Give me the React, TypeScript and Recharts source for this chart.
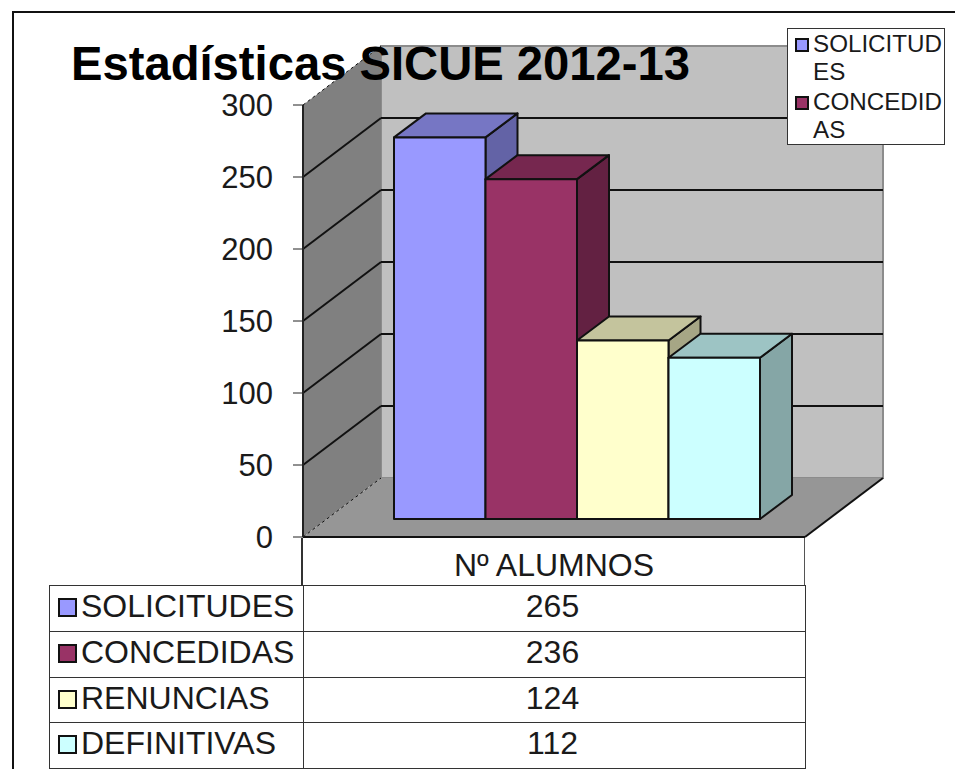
import { BarChart, Bar, XAxis, YAxis, CartesianGrid, ReferenceArea } from "recharts"

const chartTitle = "Estadísticas SICUE 2012-13"
const categories = ["Nº ALUMNOS"]
const seriesNames = ["SOLICITUDES", "CONCEDIDAS", "RENUNCIAS", "DEFINITIVAS"]
const seriesValues = [265, 236, 124, 112]
const seriesColors = ["#9999FF", "#993366", "#FFFFCC", "#CCFFFF"]
const legendNames = ["SOLICITUDES", "CONCEDIDAS"]
const yTicks = [0, 50, 100, 150, 200, 250, 300]
const rowTops = [585, 631, 677, 722]

const data = categories.map((name) => {
  const row: Record<string, string | number> = { name }
  seriesNames.forEach((s, i) => {
    row[s] = seriesValues[i]
  })
  return row
})

const FONT = "'Liberation Sans', Arial, sans-serif"
const DARK = "#222"
const TEXT = "#1a1a1a"

// depth of the fake 3d box
const WALL_DX = 78
const WALL_DY = 59
const BAR_OFFSET_X = 23
const BAR_OFFSET_Y = 18
const BAR_DX = 32
const BAR_DY = 24

function shade(hex: string, k: number) {
  const n = parseInt(hex.slice(1), 16)
  const r = Math.round(((n >> 16) & 255) * k)
  const g = Math.round(((n >> 8) & 255) * k)
  const b = Math.round((n & 255) * k)
  return `rgb(${r},${g},${b})`
}

function Walls(props: any) {
  const { x, y, width, height } = props
  const bottom = y + height
  return (
    <g>
      <rect x={x + WALL_DX} y={y - WALL_DY} width={width} height={height} fill="#C0C0C0" stroke="#8c8c8c" strokeWidth={2} />
      <polygon
        points={`${x},${y} ${x + WALL_DX},${y - WALL_DY} ${x + WALL_DX},${bottom - WALL_DY} ${x},${bottom}`}
        fill="#808080"
      />
      <polygon
        points={`${x},${bottom} ${x + WALL_DX},${bottom - WALL_DY} ${x + width + WALL_DX},${bottom - WALL_DY} ${x + width},${bottom}`}
        fill="#969696"
      />
      <line x1={x + width} y1={bottom} x2={x + width + WALL_DX} y2={bottom - WALL_DY} stroke="#111" strokeWidth={2} />
    </g>
  )
}

function GridLine(props: any) {
  const { x1, x2, y1, index } = props
  const edge = y1 < 110 || y1 > 530
  return (
    <g key={index}>
      <line
        x1={x1}
        y1={y1}
        x2={x1 + WALL_DX}
        y2={y1 - WALL_DY}
        stroke="#111"
        strokeWidth={edge ? 1 : 2}
        strokeDasharray={edge ? "3 3" : undefined}
      />
      {!edge && <line x1={x1 + WALL_DX} y1={y1 - WALL_DY} x2={x2 + WALL_DX} y2={y1 - WALL_DY} stroke="#111" strokeWidth={2} />}
    </g>
  )
}

function Bar3D(props: any) {
  const { x, y, width, height, fill } = props
  const left = x + BAR_OFFSET_X
  const top = y - BAR_OFFSET_Y
  const right = left + width
  const bottom = top + height
  const stroke = { stroke: "#111", strokeWidth: 2, strokeLinejoin: "round" as const }
  return (
    <g>
      <polygon
        points={`${right},${top} ${right + BAR_DX},${top - BAR_DY} ${right + BAR_DX},${bottom - BAR_DY} ${right},${bottom}`}
        fill={shade(fill, 0.65)}
        {...stroke}
      />
      <polygon
        points={`${left},${top} ${left + BAR_DX},${top - BAR_DY} ${right + BAR_DX},${top - BAR_DY} ${right},${top}`}
        fill={shade(fill, 0.77)}
        {...stroke}
      />
      <rect x={left} y={top} width={width} height={height} fill={fill} {...stroke} />
    </g>
  )
}

function Swatch({ color, size }: { color: string; size: number }) {
  return (
    <span
      style={{
        display: "block",
        boxSizing: "border-box",
        width: size,
        height: size,
        background: color,
        border: "2px solid #111",
      }}
    />
  )
}

export default function App() {
  return (
    <div style={{ position: "absolute", left: 0, top: 0, width: 955, height: 769, overflow: "hidden", background: "#fff", fontFamily: FONT }}>
      <div style={{ position: "absolute", left: 12, top: 11, width: 943, height: 758, borderLeft: "2px solid #111", borderTop: "2px solid #111" }} />

      <div style={{ position: "absolute", left: 0, top: 0 }}>
        <BarChart
          width={955}
          height={769}
          data={data}
          barSize={91.5}
          barGap={0}
          margin={{ top: 105, right: 150, bottom: 184, left: 243 }}
        >
          <ReferenceArea y1={0} y2={300} shape={<Walls />} ifOverflow="visible" zIndex={-200} />
          <CartesianGrid vertical={false} horizontal={<GridLine />} zIndex={-100} />
          <XAxis
            dataKey="name"
            height={48}
            tickLine={false}
            axisLine={{ stroke: "#111", strokeWidth: 2 }}
            interval={0}
            tick={{ fill: TEXT, fontSize: 32, fontFamily: FONT, dy: 8 }}
          />
          <YAxis
            width={60}
            domain={[0, 300]}
            ticks={yTicks}
            interval={0}
            tickSize={10}
            tickMargin={20}
            axisLine={{ stroke: DARK, strokeWidth: 2 }}
            tickLine={{ stroke: DARK, strokeWidth: 1 }}
            tick={{ fill: TEXT, fontSize: 31, fontFamily: FONT }}
          />
          {seriesNames.map((s, i) => (
            <Bar key={s} dataKey={s} fill={seriesColors[i]} shape={<Bar3D />} isAnimationActive={false} />
          ))}
        </BarChart>
      </div>

      <div style={{ position: "absolute", left: 71, top: 35, fontSize: 47.2, lineHeight: "58px", fontWeight: "bold", color: "#000", whiteSpace: "nowrap" }}>
        {chartTitle}
      </div>

      {/* legend box */}
      <div style={{ position: "absolute", left: 787, top: 28, width: 158, height: 117, boxSizing: "border-box", background: "#fff", border: "1px solid #333", fontSize: 24.2, lineHeight: "28px", color: TEXT }}>
        {legendNames.map((name, i) => (
          <div key={name} style={{ position: "absolute", left: 25, top: i * 58 + 1, width: 131, wordBreak: "break-all" }}>
            <div style={{ position: "absolute", left: -18, top: 8 }}>
              <Swatch color={seriesColors[i]} size={14} />
            </div>
            {name}
          </div>
        ))}
      </div>

      {/* data table */}
      <div style={{ position: "absolute", left: 301, top: 538, width: 504, height: 47, boxSizing: "border-box", borderLeft: "2px solid #333", borderRight: "1px solid #555" }} />
      {seriesNames.map((name, i) => (
        <div
          key={name}
          style={{
            position: "absolute",
            left: 49,
            top: rowTops[i],
            width: 757,
            height: (rowTops[i + 1] ?? 768) - rowTops[i] + 1,
            boxSizing: "border-box",
            border: "1px solid #333",
            color: TEXT,
            fontSize: 32,
          }}
        >
          <div style={{ position: "absolute", left: 253, top: 0, bottom: 0, width: 1, background: "#333" }} />
          <div style={{ position: "absolute", left: 8, top: 12 }}>
            <Swatch color={seriesColors[i]} size={19} />
          </div>
          <div style={{ position: "absolute", left: 31, top: 2, lineHeight: "36px" }}>{name}</div>
          <div style={{ position: "absolute", left: 252, width: 501, top: 2, lineHeight: "36px", textAlign: "center" }}>{seriesValues[i]}</div>
        </div>
      ))}
    </div>
  )
}
